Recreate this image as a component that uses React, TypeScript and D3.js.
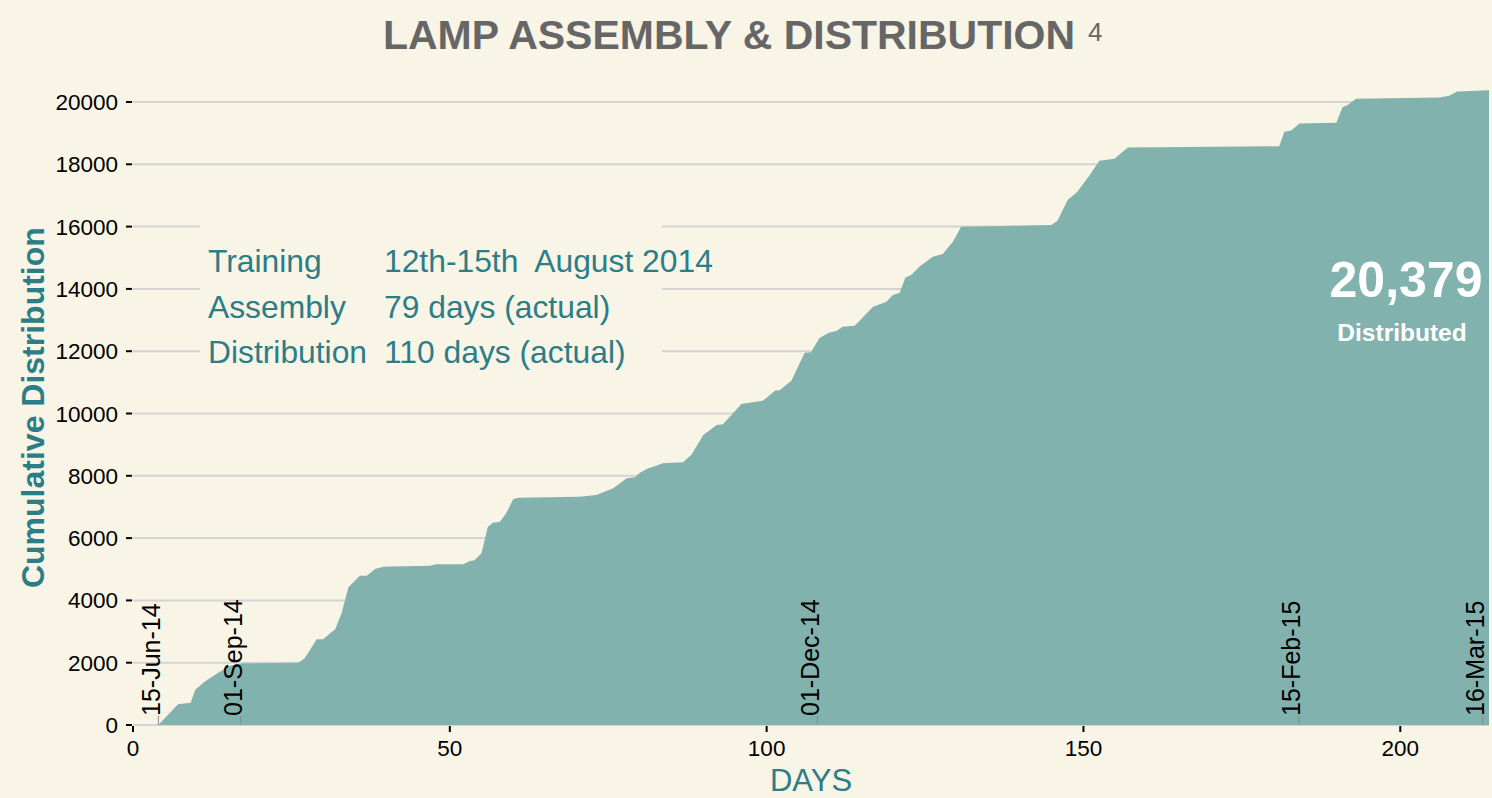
import React, { Component } from 'react';
import * as d3 from 'd3';

// day number and cumulative lamps distributed
const days = [
    4, 7.1, 9.1, 9.8, 11.1, 12.1, 13.7, 15.3, 17.4, 26.1,
    27.1, 29.0, 30.0, 31.9, 32.9, 34.0, 35.8, 36.9, 38.2, 39.5,
    46.8, 47.9, 52.1, 53.2, 53.9, 55.0, 56.0, 56.8, 57.9, 58.9,
    60.0, 60.8, 70.5, 73.1, 75.8, 77.9, 79.2, 80.0, 81.3, 82.1,
    83.6, 86.8, 88.1, 90.0, 92.1, 93.1, 94.7, 96.0, 99.4, 100.2,
    101.3, 102.1, 103.9, 106.0, 107.0, 108.3, 109.8, 111.0, 112.0, 113.9,
    116.8, 118.9, 119.9, 121.0, 121.9, 122.8, 124.1, 126.2, 127.8, 129.4,
    130.7, 144.9, 145.9, 147.5, 149.0, 151.0, 152.5, 154.9, 157.0, 180.9,
    181.7, 182.8, 184.1, 189.9, 190.9, 191.7, 193.0, 206.2, 207.7, 209.0,
    214
];
const cumulative = [
    0, 670, 716, 1120, 1360, 1500, 1710, 1900, 1980, 2000,
    2140, 2750, 2750, 3070, 3580, 4420, 4790, 4790, 5010, 5080,
    5110, 5160, 5160, 5265, 5290, 5510, 6366, 6495, 6527, 6796,
    7245, 7298, 7330, 7383, 7597, 7918, 7950, 8100, 8240, 8293,
    8400, 8432, 8668, 9310, 9631, 9653, 10006, 10305, 10411, 10540,
    10733, 10754, 11050, 11950, 11970, 12415, 12590, 12648, 12787, 12819,
    13429, 13590, 13804, 13878, 14370, 14446, 14713, 15034, 15120, 15515,
    15996, 16051, 16190, 16854, 17110, 17660, 18112, 18177, 18536, 18578,
    19043, 19082, 19310, 19336, 19840, 19907, 20106, 20148, 20199, 20334,
    20379
];

const yTicks = [0, 2000, 4000, 6000, 8000, 10000, 12000, 14000, 16000, 18000, 20000];
const xTicks = [0, 50, 100, 150, 200];

// milestone dates marked along the bottom
const dateDays = [4, 17, 108, 184, 213];
const dateLabels = ["15-Jun-14", "01-Sep-14", "01-Dec-14", "15-Feb-15", "16-Mar-15"];

const noteLabels = ["Training", "Assembly", "Distribution"];
const noteValues = ["12th-15th  August 2014", "79 days (actual)", "110 days (actual)"];

const total = 20379;
const maxDay = 214;

const bg = "#f8f4e6";
const teal = "#2b7d87";
const font = "'Liberation Sans', Arial, sans-serif";

class App extends Component {

    constructor(props){
        super(props);
        this.chart = React.createRef();
        this.drawGraph = this.drawGraph.bind(this);
    }

    componentDidMount(){
        document.body.style.margin = "0";
        document.body.style.background = bg;
        this.drawGraph();
    }

    drawGraph(){
        d3.select(this.chart.current).selectAll("*").remove();

        var width = 1492;
        var height = 798;
        var left = 133, right = 1489, top = 90.2, bottom = 725;

        var svg = d3.select(this.chart.current).append("svg")
                    .attr("width", width)
                    .attr("height", height)
                    .style("display", "block")
                    .style("background-color", bg)
                    .style("font-family", font);

        var x = d3.scaleLinear().domain([0, maxDay]).range([left, right]);
        var y = d3.scaleLinear().domain([0, total]).range([bottom, top]);

        // horizontal grid
        svg.selectAll(".grid")
            .data(yTicks)
            .enter()
            .append("line")
            .attr("x1", left)
            .attr("x2", right)
            .attr("y1", d => y(d))
            .attr("y2", d => y(d))
            .attr("stroke", "#d4d4d4")
            .attr("stroke-width", 2);

        // box behind the notes hides the grid
        svg.append("rect")
            .attr("x", 200)
            .attr("y", 222)
            .attr("width", 462)
            .attr("height", 150)
            .attr("fill", bg);

        var points = days.map((d, i) => [d, cumulative[i]]);

        var area = d3.area()
            .x(d => x(d[0]))
            .y0(y(0))
            .y1(d => y(d[1]));

        svg.append("path")
            .datum(points)
            .attr("d", area)
            .attr("fill", "#82b2ae");

        // y axis ticks + labels
        svg.selectAll(".ytick")
            .data(yTicks)
            .enter()
            .append("line")
            .attr("x1", left - 7)
            .attr("x2", left - 1)
            .attr("y1", d => y(d))
            .attr("y2", d => y(d))
            .attr("stroke", "black")
            .attr("stroke-width", 2);

        svg.selectAll(".ylab")
            .data(yTicks)
            .enter()
            .append("text")
            .attr("x", left - 15)
            .attr("y", d => y(d) + 8)
            .attr("text-anchor", "end")
            .attr("font-size", "22.5px")
            .attr("fill", "black")
            .text(d => d);

        // x axis ticks + labels
        svg.selectAll(".xtick")
            .data(xTicks)
            .enter()
            .append("line")
            .attr("x1", d => x(d))
            .attr("x2", d => x(d))
            .attr("y1", bottom + 1)
            .attr("y2", bottom + 7)
            .attr("stroke", "black")
            .attr("stroke-width", 2);

        svg.selectAll(".xlab")
            .data(xTicks)
            .enter()
            .append("text")
            .attr("x", d => x(d))
            .attr("y", 756)
            .attr("text-anchor", "middle")
            .attr("font-size", "22.5px")
            .attr("fill", "black")
            .text(d => d);

        // milestone dates
        svg.selectAll(".dtick")
            .data(dateDays)
            .enter()
            .append("line")
            .attr("x1", d => x(d))
            .attr("x2", d => x(d))
            .attr("y1", 716)
            .attr("y2", bottom)
            .attr("stroke", "#8a8a8a")
            .attr("stroke-width", 1);

        svg.selectAll(".dlab")
            .data(dateDays)
            .enter()
            .append("text")
            .attr("transform", d => "translate(" + (x(d) + 1.5) + ",716) rotate(-90)")
            .attr("font-size", "25px")
            .attr("fill", "black")
            .text((d, i) => dateLabels[i]);

        // notes
        svg.selectAll(".nlab")
            .data(noteLabels)
            .enter()
            .append("text")
            .attr("x", 208)
            .attr("y", (d, i) => 272 + i * 45.5)
            .attr("font-size", "31.8px")
            .attr("fill", teal)
            .text(d => d);

        svg.selectAll(".nval")
            .data(noteValues)
            .enter()
            .append("text")
            .attr("x", 384)
            .attr("y", (d, i) => 272 + i * 45.5)
            .attr("font-size", "31.8px")
            .attr("fill", teal)
            .style("white-space", "pre")
            .text(d => d);

        // total
        svg.append("text")
            .attr("x", 1406)
            .attr("y", 297)
            .attr("text-anchor", "middle")
            .attr("font-size", "50px")
            .attr("font-weight", "bold")
            .attr("fill", "white")
            .text(d3.format(",")(total));

        svg.append("text")
            .attr("x", 1402)
            .attr("y", 341)
            .attr("text-anchor", "middle")
            .attr("font-size", "24.5px")
            .attr("font-weight", "bold")
            .attr("fill", "white")
            .text("Distributed");

        // axis titles
        svg.append("text")
            .attr("x", (left + right) / 2)
            .attr("y", 791)
            .attr("text-anchor", "middle")
            .attr("font-size", "31px")
            .attr("fill", teal)
            .text("DAYS");

        svg.append("text")
            .attr("transform", "translate(44," + (top + bottom) / 2 + ") rotate(-90)")
            .attr("text-anchor", "middle")
            .attr("font-size", "32px")
            .attr("font-weight", "bold")
            .attr("fill", teal)
            .text("Cumulative Distribution");

        // heading
        var title = svg.append("text")
            .attr("x", 383)
            .attr("y", 49)
            .attr("font-size", "40.6px")
            .attr("font-weight", "bold")
            .attr("fill", "#666666")
            .attr("textLength", 692)
            .attr("lengthAdjust", "spacingAndGlyphs")
            .text("LAMP ASSEMBLY & DISTRIBUTION");

        svg.append("text")
            .attr("x", 1088)
            .attr("y", 41)
            .attr("font-size", "26px")
            .attr("fill", "#666666")
            .text("4");
    }

    render(){
        return(
            <div ref={this.chart}></div>
        )
    }
}

export default App;
